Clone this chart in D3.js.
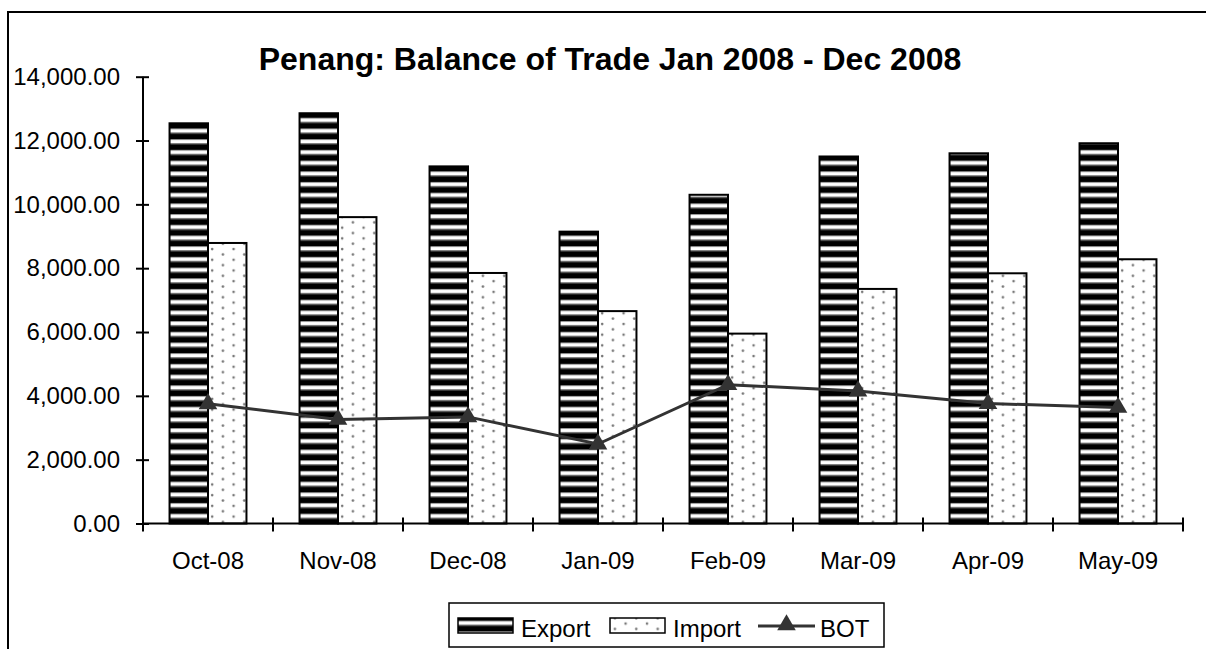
<!DOCTYPE html>
<html><head><meta charset="utf-8">
<script src="https://cdn.jsdelivr.net/npm/d3@7"></script>
<style>
html,body{margin:0;padding:0;background:#fff;}
text{font-family:"Liberation Sans",Arial,sans-serif;}
</style></head>
<body>
<svg id="chart" width="1206" height="649"></svg>
<script>
const categories = ["Oct-08","Nov-08","Dec-08","Jan-09","Feb-09","Mar-09","Apr-09","May-09"];
const exportValues = [12540, 12855, 11190, 9145, 10300, 11500, 11600, 11915];
const importValues = [8790, 9600, 7850, 6655, 5950, 7350, 7840, 8280];
const botValues = [3750, 3260, 3340, 2490, 4350, 4150, 3760, 3635];
const seriesNames = ["Export","Import","BOT"];
const yTicks = [0,2000,4000,6000,8000,10000,12000,14000];
const chartTitle = "Penang: Balance of Trade Jan 2008 - Dec 2008";

(function(){
const svg = d3.select("#chart");
svg.append("rect").attr("width",1206).attr("height",649).attr("fill","#fff");

const defs = svg.append("defs");
const ps = defs.append("pattern").attr("id","stripes").attr("patternUnits","userSpaceOnUse")
  .attr("width",8).attr("height",10.7);
ps.append("rect").attr("width",8).attr("height",10.7).attr("fill","#000");
ps.append("rect").attr("y",0).attr("width",8).attr("height",1).attr("fill","#999");
ps.append("rect").attr("y",1).attr("width",8).attr("height",3.2).attr("fill","#fff");
ps.append("rect").attr("y",4.2).attr("width",8).attr("height",1).attr("fill","#999");
const pd = defs.append("pattern").attr("id","dots").attr("patternUnits","userSpaceOnUse")
  .attr("width",21.4).attr("height",10.7);
pd.append("rect").attr("width",21.4).attr("height",10.7).attr("fill","#fff");
pd.append("circle").attr("cx",5).attr("cy",3).attr("r",1.3).attr("fill","#777");
pd.append("circle").attr("cx",15.7).attr("cy",8.35).attr("r",1.3).attr("fill","#777");

svg.append("rect").attr("x",8).attr("y",12).attr("width",1220).attr("height",680)
  .attr("fill","none").attr("stroke","#000").attr("stroke-width",2);

svg.append("text").attr("x",610).attr("y",70).attr("text-anchor","middle")
  .attr("font-size",32).attr("font-weight","bold").text(chartTitle);

const pLeft = 143, pRight = 1183, pTop = 76.7, pBottom = 523.5;
const y = d3.scaleLinear().domain([0,14000]).range([pBottom, pTop]);
const x0 = d3.scaleBand().domain(categories).range([pLeft,pRight]).padding(0);
const x1 = d3.scaleBand().domain(["Export","Import"]).range([0,x0.bandwidth()]).paddingInner(0).paddingOuter(0.69);

const rows = categories.map((c,i)=>({cat:c, vals:[{k:"Export",v:exportValues[i]},{k:"Import",v:importValues[i]}]}));
const g = svg.append("g");
g.selectAll("g.grp").data(rows).join("g").attr("class","grp")
  .attr("transform",d=>`translate(${x0(d.cat)},0)`)
  .selectAll("rect").data(d=>d.vals).join("rect")
  .attr("x",d=>x1(d.k)).attr("width",x1.bandwidth())
  .attr("y",d=>y(d.v)).attr("height",d=>y(0)-y(d.v))
  .attr("fill",d=>d.k==="Export"?"url(#stripes)":"url(#dots)")
  .attr("stroke","#000").attr("stroke-width",2);

const yAxis = d3.axisLeft(y).tickValues(yTicks).tickFormat(d3.format(",.2f")).tickSize(7).tickPadding(16);
const ya = svg.append("g").attr("transform",`translate(${pLeft},0)`).call(yAxis);
ya.select(".domain").attr("stroke","#000").attr("stroke-width",2).attr("d",`M0,${pBottom}V${pTop}`);
ya.selectAll(".tick line").attr("x1",6).attr("stroke","#000").attr("stroke-width",2);
ya.selectAll(".tick text").attr("font-size",24).attr("fill","#000").attr("font-family","Liberation Sans, Arial, sans-serif");

const xa = svg.append("g").attr("transform",`translate(0,${pBottom})`);
xa.append("line").attr("x1",pLeft).attr("x2",pRight).attr("stroke","#000").attr("stroke-width",2);
const bounds = categories.map(c=>x0(c)).concat([x0(categories[categories.length-1])+x0.bandwidth()]);
xa.selectAll("line.tk").data(bounds).join("line").attr("class","tk")
  .attr("x1",d=>d).attr("x2",d=>d).attr("y1",-6).attr("y2",8).attr("stroke","#000").attr("stroke-width",2);
xa.selectAll("text").data(categories).join("text")
  .attr("x",d=>x0(d)+x0.bandwidth()/2).attr("y",45).attr("text-anchor","middle")
  .attr("font-size",24).text(d=>d);

const line = d3.line().x((d,i)=>x0(categories[i])+x0.bandwidth()/2).y(d=>y(d));
svg.append("path").datum(botValues).attr("d",line).attr("fill","none")
  .attr("stroke","#333").attr("stroke-width",3);
const tri = d3.symbol().type(d3.symbolTriangle).size(150);
svg.selectAll("path.mk").data(botValues).join("path").attr("class","mk")
  .attr("transform",(d,i)=>`translate(${x0(categories[i])+x0.bandwidth()/2},${y(d)})`)
  .attr("d",tri).attr("fill","#333");

const lg = svg.append("g");
lg.append("rect").attr("x",449).attr("y",603).attr("width",435).attr("height",44)
  .attr("fill","#fff").attr("stroke","#000").attr("stroke-width",1.5);
lg.append("rect").attr("x",458).attr("y",618).attr("width",55).attr("height",15)
  .attr("fill","url(#stripes)").attr("stroke","#000").attr("stroke-width",1.5);
lg.append("text").attr("x",521).attr("y",637).attr("font-size",24).text(seriesNames[0]);
lg.append("rect").attr("x",610).attr("y",618).attr("width",55).attr("height",15)
  .attr("fill","url(#dots)").attr("stroke","#000").attr("stroke-width",1.5);
lg.append("text").attr("x",673).attr("y",637).attr("font-size",24).text(seriesNames[1]);
lg.append("line").attr("x1",758).attr("x2",815).attr("y1",626).attr("y2",626).attr("stroke","#333").attr("stroke-width",3);
lg.append("path").attr("transform","translate(786.5,625)").attr("d",tri).attr("fill","#333");
lg.append("text").attr("x",820).attr("y",637).attr("font-size",24).text(seriesNames[2]);
})();
</script>
</body></html>
